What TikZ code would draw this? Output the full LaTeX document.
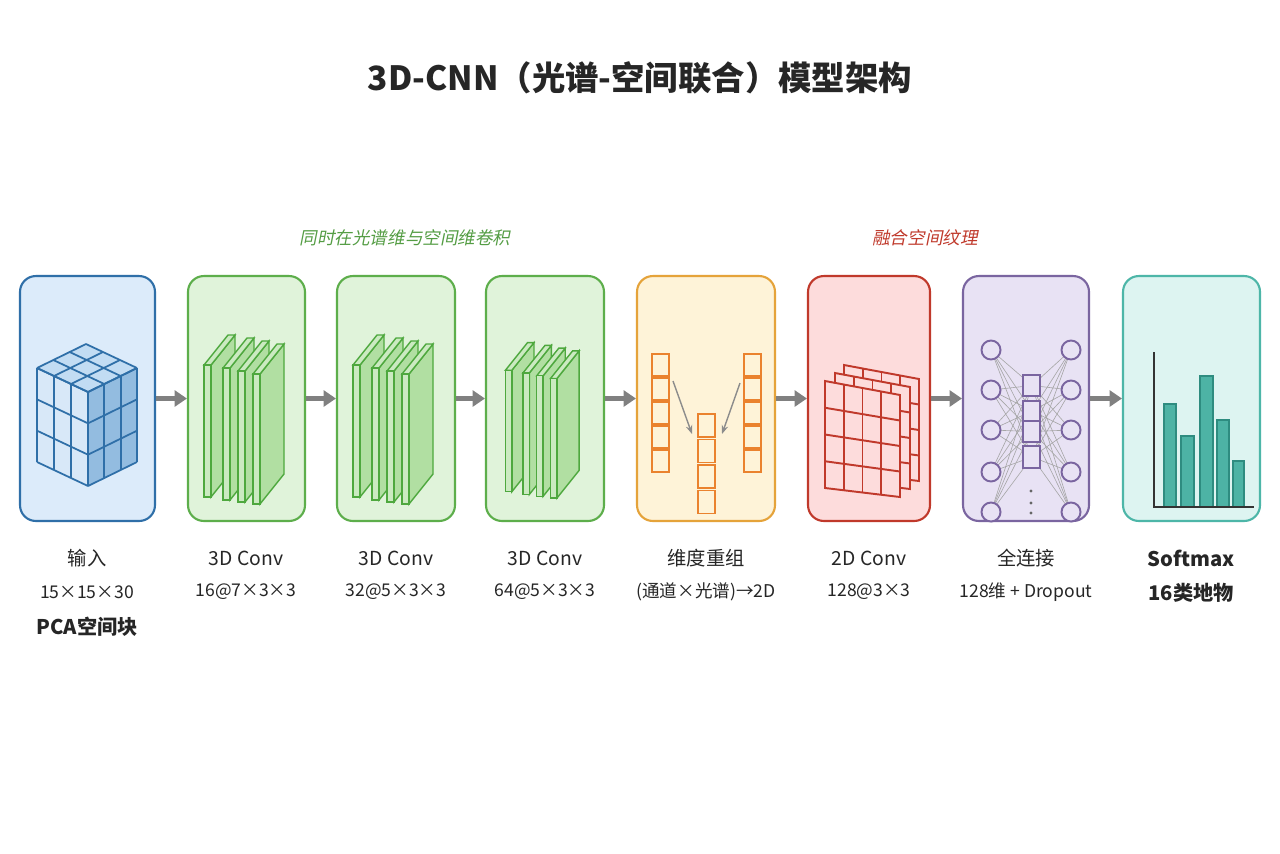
\documentclass[tikz,border=0pt]{standalone}
\usepackage{fontspec}
\setmainfont{Noto Sans CJK SC}
\newfontfamily\cjkslant[FakeSlant=0.2]{Noto Sans CJK SC}
\usetikzlibrary{calc,arrows.meta,positioning}
\definecolor{blueF}{HTML}{DCEBFA}\definecolor{blueD}{HTML}{2F6FA8}
\definecolor{cubeT}{HTML}{C2DCF3}\definecolor{cubeL}{HTML}{D8E8F8}\definecolor{cubeR}{HTML}{93BCE0}
\definecolor{greenF}{HTML}{E0F3DA}\definecolor{greenD}{HTML}{5DAE4B}
\definecolor{orangeF}{HTML}{FEF3D8}\definecolor{orangeD}{HTML}{E5A33A}
\definecolor{redF}{HTML}{FDDCDC}\definecolor{redD}{HTML}{C0392B}
\definecolor{purpleF}{HTML}{E8E2F4}\definecolor{purpleD}{HTML}{7A65A0}
\definecolor{tealF}{HTML}{DDF4F1}\definecolor{tealD}{HTML}{4DB6A8}
\definecolor{slabF}{HTML}{A8DC98}\definecolor{slabD}{HTML}{4EA83E}
\definecolor{barF}{HTML}{4DB3A5}\definecolor{barD}{HTML}{2E8C80}
\tikzset{
  stage/.style={draw=#1D,fill=#1F,line width=1.2pt,rounded corners=9pt,minimum height=4.9cm},
  flow/.style={-{Triangle[length=7pt,width=9pt]},line width=2.4pt,draw=black!50},
  lbl/.style={font=\fontsize{11}{13}\selectfont,text=black!85},
  sub/.style={font=\fontsize{10}{12}\selectfont,text=black!85},
}
% one slab: front x, top y, height
\newcommand\slab[3]{
  \draw[slabD,fill=slabF!90,line width=0.8pt] (#1+7,#2)--(#1+31,#2-30)--(#1+31,#2+#3-30)--(#1+7,#2+#3)--cycle;
  \draw[slabD,fill=slabF!60,line width=0.8pt] (#1,#2)--(#1+24,#2-30)--(#1+31,#2-30)--(#1+7,#2)--cycle;
  \draw[slabD,fill=slabF!60,line width=0.8pt] (#1,#2) rectangle (#1+7,#2+#3);
}
\newcommand\slabs[1]{
  \slab{#1+16}{365}{132}\slab{#1+35}{368}{132}\slab{#1+50}{371}{131}\slab{#1+65}{374}{130}
}
\begin{document}
\begin{tikzpicture}[x=0.02cm,y=-0.02cm]
\useasboundingbox[fill=white] (0,0) rectangle (1280,853);
\node[font=\fontsize{19}{22}\selectfont\bfseries,text=black!85] (title) at (640,78) {3D-CNN（光谱-空间联合）模型架构};
\node[font=\fontsize{10}{12}\selectfont\cjkslant,text=greenD!90!black] (noteA) at (405,238) {同时在光谱维与空间维卷积};
\node[font=\fontsize{10}{12}\selectfont\cjkslant,text=redD] (noteB) at (925,238) {融合空间纹理};
% stages
\node[stage=blue,minimum width=2.70cm] (b1) at (87.5,398.5) {};
\node[stage=green,minimum width=2.34cm] (b2) at (246.5,398.5) {};
\node[stage=green,minimum width=2.36cm] (b3) at (396,398.5) {};
\node[stage=green,minimum width=2.36cm] (b4) at (545,398.5) {};
\node[stage=orange,minimum width=2.76cm] (b5) at (706,398.5) {};
\node[stage=red,minimum width=2.44cm] (b6) at (869,398.5) {};
\node[stage=purple,minimum width=2.52cm] (b7) at (1026,398.5) {};
\node[stage=teal,minimum width=2.74cm] (b8) at (1191.5,398.5) {};
\foreach \a/\b in {b1/b2,b2/b3,b3/b4,b4/b5,b5/b6,b6/b7,b7/b8}
  \draw[flow] (\a.east) -- (\b.west);
% cube
\coordinate (C) at (88,392);
\coordinate (L) at (-51,-24);
\coordinate (R) at (49,-24);
\coordinate (D) at (0,94);
\begin{scope}[blueD,line width=1pt]
\fill[cubeT] (C) -- ($(C)+(L)$) -- ($(C)+(L)+(R)$) -- ($(C)+(R)$) -- cycle;
\fill[cubeL] (C) -- ($(C)+(L)$) -- ($(C)+(L)+(D)$) -- ($(C)+(D)$) -- cycle;
\fill[cubeR] (C) -- ($(C)+(R)$) -- ($(C)+(R)+(D)$) -- ($(C)+(D)$) -- cycle;
\foreach \t in {0,1,2,3}{
  \draw ($(C)+\t/3*(L)$) -- ($(C)+\t/3*(L)+(R)$);
  \draw ($(C)+\t/3*(R)$) -- ($(C)+\t/3*(R)+(L)$);
  \draw ($(C)+\t/3*(L)$) -- ($(C)+\t/3*(L)+(D)$);
  \draw ($(C)+\t/3*(D)$) -- ($(C)+\t/3*(D)+(L)$);
  \draw ($(C)+\t/3*(R)$) -- ($(C)+\t/3*(R)+(D)$);
  \draw ($(C)+\t/3*(D)$) -- ($(C)+\t/3*(D)+(R)$);
}
\end{scope}
% conv slabs
\slabs{188}
\slabs{337}
\begin{scope}[shift={(545,430)},scale=0.92,shift={(-545,-430)}]\slabs{486}\end{scope}
% reshape columns
\begin{scope}[orangeD!80!red,line width=1pt]
\foreach \x in {652,744}\foreach \k in {0,...,4}
  \draw[fill=orangeF] (\x,354+\k*24) rectangle (\x+17,354+\k*24+22);
\foreach \k in {0,...,3}
  \draw[fill=orangeF] (698,414+\k*25.5) rectangle (715,414+\k*25.5+23);
\end{scope}
\draw[-{Stealth[length=5pt]},black!45,line width=0.8pt] (673,381) -- (692,434);
\draw[-{Stealth[length=5pt]},black!45,line width=0.8pt] (740,383) -- (722,434);
% 2d feature maps
\foreach \dx/\dy in {19/-16,10/-8,0/0}{
\begin{scope}[shift={(\dx,\dy)}]
\coordinate (p1) at (825,381);\coordinate (p2) at (900,395);
\coordinate (p3) at (900,497);\coordinate (p4) at (825,488);
\draw[redD,line width=1.1pt,fill=redF] (p1)--(p2)--(p3)--(p4)--cycle;
\foreach \t in {0.25,0.5,0.75}{
  \draw[redD,line width=1.1pt] ($(p1)!\t!(p2)$) -- ($(p4)!\t!(p3)$);
  \draw[redD,line width=1.1pt] ($(p1)!\t!(p4)$) -- ($(p2)!\t!(p3)$);
}
\end{scope}}
% dense layer
\foreach \i/\y in {1/350,2/390,3/430,4/472,5/512}{
  \coordinate (l\i) at (991,\y);
  \coordinate (r\i) at (1071,\y);
}
\foreach \j/\y in {1/385.5,2/411,3/431.5,4/457}
  \coordinate (m\j) at (1032,\y);
\foreach \i in {1,...,5}\foreach \j in {1,...,4}{
  \draw[black!35,line width=0.35pt] (l\i) -- (m\j);
  \draw[black!35,line width=0.35pt] (m\j) -- (r\i);
}
\foreach \i in {1,...,5}{
  \draw[purpleD,fill=purpleF,line width=1.1pt] (l\i) circle (9.5);
  \draw[purpleD,fill=purpleF,line width=1.1pt] (r\i) circle (9.5);
}
\foreach \t/\b in {375/396,401/421,421/442,446/468}
  \draw[purpleD,fill=purpleF,line width=1.1pt] (1023,\t) rectangle (1040,\b);
\foreach \y in {491,503,513} \fill[black!60] (1031,\y) circle (1.6);
% bar chart
\foreach \a/\b/\t in {1164/1176/404,1181/1194/436,1200/1213/376,1217/1229/420,1233/1244/461}
  \draw[barD,fill=barF,line width=0.8pt] (\a,507) rectangle (\b,\t);
\draw[black!80,line width=1.1pt] (1154,352) -- (1154,507) -- (1254,507);
% labels
\foreach \n/\x/\a/\b in {b1/87/输入/15×15×30,b2/246/3D Conv/16@7×3×3,b3/396/3D Conv/32@5×3×3,
  b4/545/3D Conv/64@5×3×3,b5/706/维度重组/(通道×光谱)→2D,b6/869/2D Conv/128@3×3,b7/1026/全连接/128维 + Dropout}{
  \node[lbl] (t\n) at (\x,558) {\a};
  \node[sub] (s\n) at (\x,592) {\b};
}
\node[lbl,font=\fontsize{11.5}{13}\selectfont\bfseries] (tb8) at (1191,558) {Softmax};
\node[lbl,font=\fontsize{11.5}{13}\selectfont\bfseries] (sb8) at (1191,593) {16类地物};
\node[lbl,font=\fontsize{11.5}{13}\selectfont\bfseries] (pb1) at (87,627) {PCA空间块};
\end{tikzpicture}
\end{document}
